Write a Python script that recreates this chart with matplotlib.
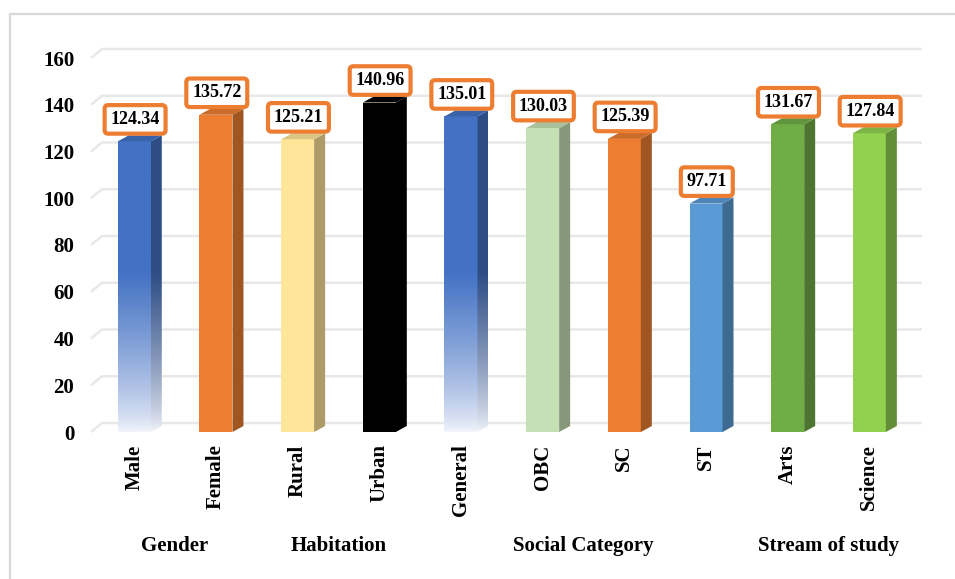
import matplotlib
matplotlib.use("Agg")
import matplotlib.pyplot as plt
import numpy as np
from matplotlib.patches import Polygon, Rectangle
from matplotlib.colors import to_rgb
import matplotlib.transforms as mtransforms

categories = ["Male", "Female", "Rural", "Urban", "General", "OBC", "SC", "ST", "Arts", "Science"]
values = [124.34, 135.72, 125.21, 140.96, 135.01, 130.03, 125.39, 97.71, 131.67, 127.84]
bar_colors = ["#4472C4", "#ED7D31", "#FFE699", "#000000", "#4472C4",
              "#C5E0B4", "#ED7D31", "#5B9BD5", "#70AD47", "#92D050"]
gradient_bars = [True, False, False, False, True, False, False, False, False, False]
groups = ["Gender", "Habitation", "Social Category", "Stream of study"]
group_members = [(0, 1), (2, 3), (4, 7), (8, 9)]
yticks = [0, 20, 40, 60, 80, 100, 120, 140, 160]

FONT = "Liberation Serif"
plt.rcParams['font.family'] = [FONT, 'DejaVu Serif']

W, H = 955, 579
fig = plt.figure(figsize=(W / 100, H / 100), dpi=100)
ax_left, ax_right, ax_top, ax_bot = 91, 911, 58, 432
ax = fig.add_axes([ax_left / W, 1 - ax_bot / H, (ax_right - ax_left) / W, (ax_bot - ax_top) / H])
xmin, xmax = -0.53, 9.51
ymin, ymax = 0, 160
ppx = (ax_right - ax_left) / (xmax - xmin)
ppy = (ax_bot - ax_top) / (ymax - ymin)

# outer border
fig.patches.append(Rectangle((9.5 / W, -0.2), 1.5, 1 - 14 / H + 0.2, transform=fig.transFigure,
                             fill=False, edgecolor="#D9D9D9", lw=1.6, zorder=0))

# 3D gridlines
gdx, gdy = 11 / ppx, 9 / ppy
for t in yticks:
    ax.plot([xmin, xmin + gdx, xmax + gdx], [t, t + gdy, t + gdy], color="#E8E8E8",
            lw=1.8, clip_on=False, zorder=1, solid_capstyle="butt")

w = 33 / ppx
bdx, bdy = 11 / ppx, 6 / ppy


def shade(c, f):
    r, g, b = to_rgb(c)
    return (r * f, g * f, b * f)


light = np.array(to_rgb("#F3F5FB"))
for i, (v, c, grad) in enumerate(zip(values, bar_colors, gradient_bars)):
    x0, x1 = i - w / 2, i + w / 2
    side = [(x1, 0), (x1 + bdx, bdy), (x1 + bdx, v + bdy), (x1, v)]
    top = [(x0, v), (x0 + bdx, v + bdy), (x1 + bdx, v + bdy), (x1, v)]
    if grad:
        n = 200
        ys = np.linspace(0, 1, n)
        for face, f, ext, poly in [("front", 1.0, [x0, x1, 0, v], None),
                                   ("side", 0.68, [x1, x1 + bdx, 0, v + bdy], side)]:
            base = np.array(shade(c, f))
            top_v = ext[3]
            yv = ys * top_v
            tt = np.clip(yv / 68.0, 0, 1) ** 0.75
            col = light[None, :] + (base - light)[None, :] * tt[:, None]
            img = col[::-1][:, None, :]
            im = ax.imshow(img, extent=ext, aspect="auto", zorder=3, interpolation="bilinear")
            if poly is not None:
                p = Polygon(poly, closed=True, facecolor="none", edgecolor="none", transform=ax.transData)
                ax.add_patch(p)
                im.set_clip_path(p)
        ax.add_patch(Polygon(top, closed=True, facecolor=shade(c, 0.86), edgecolor="none", zorder=3))
    else:
        ax.bar(i, v, width=w, color=c, zorder=3, linewidth=0)
        ax.add_patch(Polygon(side, closed=True, facecolor=shade(c, 0.68), edgecolor="none", zorder=3))
        ax.add_patch(Polygon(top, closed=True, facecolor=shade(c, 0.86), edgecolor="none", zorder=3))
    ax.annotate(f"{v:.2f}", xy=(i + 0.01, v + bdy), xytext=(0, 11.5), textcoords="offset points",
                ha="center", va="center", fontsize=13, fontweight="bold", family=FONT, zorder=5,
                annotation_clip=False,
                bbox=dict(boxstyle="round,pad=0.32,rounding_size=0.2", facecolor="white",
                          edgecolor="#ED7D31", linewidth=3))

ax.set_xlim(xmin, xmax)
ax.set_ylim(ymin, ymax)
ax.set_xticks(range(len(categories)))
ax.set_xticklabels(categories, rotation=90, fontsize=15, fontweight="bold", family=FONT, va="top")
ax.set_yticks(yticks)
ax.set_yticklabels([str(t) for t in yticks], fontsize=15, fontweight="bold", family=FONT)
ax.tick_params(axis="x", length=0, pad=9)
ax.tick_params(axis="y", length=0, pad=12)
for s in ax.spines.values():
    s.set_visible(False)
ax.patch.set_alpha(0)

trans = mtransforms.blended_transform_factory(ax.transData, fig.transFigure)
for g, (a, b) in zip(groups, group_members):
    ax.text((a + b) / 2, 1 - 546 / H, g, transform=trans, ha="center", va="center",
            fontsize=15, fontweight="bold", family=FONT)

fig.savefig("out.png", dpi=100, facecolor="white")
